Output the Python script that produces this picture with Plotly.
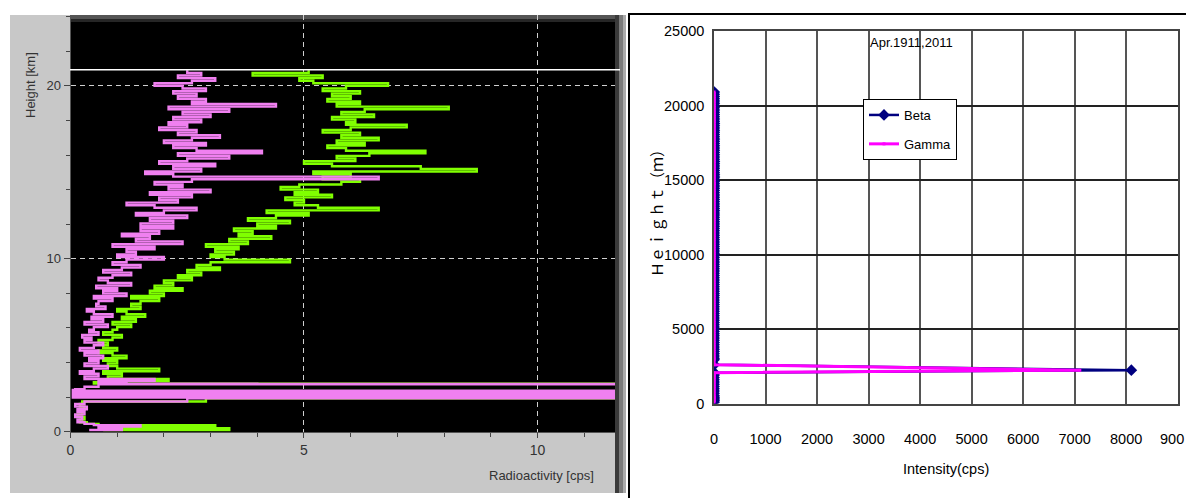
import plotly.graph_objects as go

W, H = 1186, 498

# ---------------- data: left panel (balloon sounding, cps vs km) ----------------
HEIGHT_KM = [
    0.10, 0.20, 0.30, 0.38, 0.45, 0.55, 0.70, 0.85, 1.00, 1.15, 1.30, 1.45, 1.60, 1.75, 1.93,
    1.97, 2.01, 2.05, 2.09, 2.13, 2.17, 2.21, 2.25, 2.29, 2.33, 2.37, 2.41, 2.46,
    2.60, 2.74, 2.76, 2.78, 2.86, 2.95,
    3.05, 3.20, 3.35, 3.50, 3.65, 3.80, 3.95, 4.10, 4.25, 4.40,
    4.55, 4.70, 4.85, 5.00, 5.15, 5.30, 5.45, 5.60, 5.75, 5.90,
    6.05, 6.20, 6.35, 6.50, 6.65, 6.80, 6.95, 7.10, 7.25, 7.40,
    7.55, 7.70, 7.85, 8.00, 8.15, 8.30, 8.45, 8.60, 8.75, 8.90,
    9.05, 9.20, 9.35, 9.50, 9.65, 9.80, 9.95, 10.10, 10.25, 10.40,
    10.55, 10.70, 10.85, 11.00, 11.15, 11.30, 11.45, 11.60, 11.75, 11.90,
    12.05, 12.20, 12.35, 12.50, 12.65, 12.80, 12.95, 13.10, 13.25, 13.40,
    13.55, 13.70, 13.85, 14.00, 14.15, 14.30, 14.45, 14.60, 14.75, 14.90,
    15.05, 15.20, 15.35, 15.50, 15.65, 15.80, 15.95, 16.10, 16.25, 16.40,
    16.55, 16.70, 16.85, 17.00, 17.15, 17.30, 17.45, 17.60, 17.75, 17.90,
    18.05, 18.20, 18.35, 18.50, 18.65, 18.80, 18.95, 19.10, 19.25, 19.40,
    19.55, 19.70, 19.85, 20.00, 20.15, 20.30, 20.45, 20.60, 20.75, 20.90,
]

GREEN_CPS = [
    0.7, 3.4, 0.9, 3.1, 0.6, 0.35, 0.2, 0.3, 0.15, 0.25, 0.2, 0.3, 0.2, 0.25, 2.9,
    80, 80, 80, 80, 80, 80, 80, 80, 80, 80, 80, 80, 80,
    80, 80, 80, 80, 0.5, 1.0,
    2.1, 0.8, 1.1, 0.7, 1.9, 1.0, 0.8, 1.0, 0.7, 1.2,
    0.9, 0.6, 1.0, 0.7, 0.8, 0.6, 0.9, 1.1, 0.7, 0.9,
    1.0, 1.3, 0.9, 1.4, 1.1, 1.6, 1.2, 1.0, 1.5, 1.3,
    1.5, 1.9, 1.3, 2.0, 1.7, 2.4, 1.8, 2.2, 2.0, 2.6,
    2.3, 2.8, 2.5, 3.2, 2.7, 3.0, 4.7, 3.3, 3.0, 3.5,
    3.1, 3.6, 2.9, 3.8, 3.4, 4.3, 3.6, 3.9, 3.5, 4.4,
    4.0, 4.7, 3.8, 4.4, 5.1, 4.2, 6.6, 5.3, 4.8, 5.0,
    4.6, 5.6, 4.8, 5.3, 4.5, 4.9, 5.8, 6.2, 5.4, 6.0,
    5.2, 8.7, 7.5, 5.6, 5.0, 6.1, 5.7, 6.4, 7.6, 5.9,
    5.5, 6.3, 5.7, 6.6, 5.8, 6.2, 5.4, 6.0, 7.2, 5.9,
    6.1, 5.6, 6.5, 5.8, 6.3, 8.1, 5.7, 6.2, 5.5, 6.0,
    5.6, 6.2, 5.4, 5.9, 6.8, 5.2, 4.9, 5.4, 3.9, 5.1,
]

MAGENTA_CPS = [
    0.4, 1.1, 0.6, 1.5, 0.5, 0.3, 0.15, 0.25, 0.1, 0.3, 0.15, 0.35, 0.1, 0.3, 2.5,
    80, 0.05, 80, 0.05, 80, 0.05, 80, 0.05, 80, 0.05, 80, 0.05, 0.1,
    0.3, 0.6, 80, 4.0, 1.2, 0.6,
    1.8, 0.3, 0.6, 0.2, 0.5, 0.8, 0.3, 0.6, 0.4, 0.7,
    0.3, 0.6, 0.2, 0.5, 0.7, 0.3, 0.45, 0.25, 0.6, 0.4,
    0.5, 0.8, 0.3, 0.7, 0.45, 0.9, 0.5, 0.35, 0.75, 0.55,
    0.6, 0.9, 0.5, 1.2, 0.7, 1.0, 0.55, 1.3, 0.8, 0.6,
    0.9, 1.3, 0.7, 1.1, 1.5, 0.9, 1.2, 2.0, 1.0, 1.4,
    1.2, 1.8, 0.9, 2.4, 1.4, 1.7, 1.1, 1.9, 1.5, 2.2,
    1.5, 2.2, 1.7, 2.5, 1.4, 2.0, 2.7, 1.8, 1.2, 2.3,
    1.9, 2.6, 1.7, 3.0, 2.1, 2.4, 1.8, 2.6, 6.6, 2.2,
    1.6, 2.8, 2.2, 3.1, 1.9, 2.5, 3.4, 2.3, 4.1, 2.7,
    2.2, 2.9, 2.0, 2.6, 3.2, 2.3, 2.7, 1.9, 2.5, 2.1,
    2.8, 2.2, 3.0, 2.4, 3.4, 2.1, 4.4, 2.6, 2.9, 2.3,
    2.7, 2.2, 2.9, 2.4, 1.8, 2.6, 3.1, 2.3, 2.8, 2.5,
]

CEILING_KM = 20.93
LEFT_XTICKS = [0, 5, 10]
LEFT_YTICKS = [0, 10, 20]

# ---------------- data: right panel (spike near 2.2 km) ----------------
SPIKE_HEIGHT_M = [2080, 2250, 2620]
BETA_SPIKE_CPS = [5, 8100, 5]
GAMMA_SPIKE_CPS = [5, 7100, 5]
RIGHT_XTICKS = [0, 1000, 2000, 3000, 4000, 5000, 6000, 7000, 8000]
RIGHT_YTICKS = [0, 5000, 10000, 15000, 20000, 25000]


def right_series(values, spike):
    hs, vs = [], []
    for h, v in zip(HEIGHT_KM, values):
        if h < 1.95:
            hs.append(h * 1000)
            vs.append(v)
    hs += SPIKE_HEIGHT_M
    vs += spike
    for h, v in zip(HEIGHT_KM, values):
        if h > 2.9:
            hs.append(h * 1000)
            vs.append(v)
    return hs, vs


beta_h, beta_v = right_series(GREEN_CPS, BETA_SPIKE_CPS)
gamma_h, gamma_v = right_series(MAGENTA_CPS, GAMMA_SPIKE_CPS)

GREEN = "#80ff00"
PINK = "#f080f0"
NAVY = "#000080"
MAG = "#ff00ff"
RFONT = "Liberation Sans, Arial, sans-serif"
LEFTFONT = "Liberation Sans, Arial, sans-serif"


def px(x):
    return x / W


def py(y):
    return 1 - y / H


fig = go.Figure()

fig.add_trace(go.Scatter(x=GREEN_CPS, y=HEIGHT_KM, mode="lines", xaxis="x", yaxis="y",
                         line=dict(color=GREEN, width=2.4, shape="hv"), showlegend=False))
fig.add_trace(go.Scatter(x=MAGENTA_CPS, y=HEIGHT_KM, mode="lines", xaxis="x", yaxis="y",
                         line=dict(color=PINK, width=2.4, shape="hv"), showlegend=False))

fig.add_trace(go.Scatter(x=beta_v, y=beta_h, mode="lines+markers", name="Beta", xaxis="x2", yaxis="y2",
                         line=dict(color=NAVY, width=2.5),
                         marker=dict(symbol="diamond", size=9, color=NAVY), legendgroup="b"))
fig.add_trace(go.Scatter(x=gamma_v, y=gamma_h, mode="lines+markers", name="Gamma", xaxis="x2", yaxis="y2",
                         line=dict(color=MAG, width=3),
                         marker=dict(symbol="square", size=3, color=MAG), legendgroup="g"))

shapes = [
    # left grey panel
    dict(type="rect", xref="paper", yref="paper", x0=px(10), x1=px(626), y0=py(493), y1=py(15),
         fillcolor="#c8c8c8", line=dict(width=0), layer="below"),
    # black plotting area
    dict(type="rect", xref="paper", yref="paper", x0=px(70), x1=px(615), y0=py(432), y1=py(15),
         fillcolor="#000000", line=dict(width=0), layer="below"),
    # soft shading
    dict(type="rect", xref="paper", yref="paper", x0=px(70), x1=px(615), y0=py(19), y1=py(15),
         fillcolor="#555555", line=dict(width=0), layer="below"),
    dict(type="rect", xref="paper", yref="paper", x0=px(70), x1=px(615), y0=py(22), y1=py(19),
         fillcolor="#262626", line=dict(width=0), layer="below"),
    dict(type="rect", xref="paper", yref="paper", x0=px(615), x1=px(619), y0=py(493), y1=py(15),
         fillcolor="#3a3a3a", line=dict(width=0), layer="below"),
    dict(type="rect", xref="paper", yref="paper", x0=px(619), x1=px(623), y0=py(493), y1=py(15),
         fillcolor="#7a7a7a", line=dict(width=0), layer="below"),
    dict(type="rect", xref="paper", yref="paper", x0=px(623), x1=px(626), y0=py(493), y1=py(15),
         fillcolor="#aaaaaa", line=dict(width=0), layer="below"),
    # ceiling line
    dict(type="line", xref="paper", yref="y", x0=px(70), x1=px(620), y0=CEILING_KM, y1=CEILING_KM,
         line=dict(color="#ffffff", width=1.5)),
    # right panel frame
    dict(type="rect", xref="paper", yref="paper", x0=px(629), x1=1.05, y0=-0.05, y1=py(14),
         line=dict(color="#000000", width=2), fillcolor="rgba(0,0,0,0)", layer="above"),
]

annotations = [
    dict(text="Height [km]", xref="paper", yref="paper", x=px(30), y=py(85), textangle=-90,
         showarrow=False, font=dict(family=LEFTFONT, size=13, color="#333333"),
         xanchor="center", yanchor="middle"),
    dict(text="Radioactivity [cps]", xref="paper", yref="paper", x=px(596), y=py(475),
         showarrow=False, font=dict(family=LEFTFONT, size=13, color="#333333"),
         xanchor="right", yanchor="middle"),
    dict(text="Apr.1911,2011", xref="paper", yref="paper", x=px(868), y=py(43),
         showarrow=False, font=dict(family=RFONT, size=13, color="#000000"),
         xanchor="left", yanchor="middle"),
    dict(text="Ｈｅｉｇｈｔ（ｍ）", xref="paper", yref="paper", x=px(656), y=py(210), textangle=-90,
         showarrow=False, font=dict(family="Noto Sans CJK JP", size=15, color="#000000"),
         xanchor="center", yanchor="middle"),
    dict(text="Intensity(cps)", xref="paper", yref="paper", x=px(946), y=py(469),
         showarrow=False, font=dict(family=RFONT, size=14.5, color="#000000"),
         xanchor="center", yanchor="middle"),
    # the 9000 tick label is cut by the picture's right edge
    dict(text="900", xref="paper", yref="paper", x=1.0, y=py(439),
         showarrow=False, font=dict(family=RFONT, size=14.5, color="#000000"),
         xanchor="right", yanchor="middle"),
]

fig.update_layout(
    width=W, height=H, autosize=False,
    margin=dict(l=0, r=0, t=0, b=0, pad=0),
    paper_bgcolor="#ffffff", plot_bgcolor="rgba(0,0,0,0)",
    shapes=shapes, annotations=annotations,
    xaxis=dict(domain=[px(70.5), px(615)], range=[0, 11.66], anchor="y", automargin=False,
               tickmode="array", tickvals=LEFT_XTICKS, ticks="outside", ticklen=5, tickcolor="#444444",
               minor=dict(tickmode="linear", tick0=0, dtick=1, ticks="outside", ticklen=4,
                          tickcolor="#444444", showgrid=False),
               showgrid=True, gridcolor="#d0d0d0", griddash="5px,4px", gridwidth=1,
               zeroline=False, showline=True, linecolor="#555555", linewidth=1,
               tickfont=dict(family=LEFTFONT, size=14, color="#333333")),
    yaxis=dict(domain=[py(431.7), py(15)], range=[0, 24.1], anchor="x", automargin=False,
               tickmode="array", tickvals=LEFT_YTICKS, ticks="outside", ticklen=6, tickcolor="#444444",
               minor=dict(tickmode="linear", tick0=0, dtick=2, ticks="outside", ticklen=4,
                          tickcolor="#444444", showgrid=False),
               showgrid=True, gridcolor="#d0d0d0", griddash="5px,4px", gridwidth=1,
               zeroline=False, showline=True, linecolor="#555555", linewidth=1,
               tickfont=dict(family=LEFTFONT, size=13, color="#333333")),
    xaxis2=dict(domain=[px(714), px(1177.7)], range=[0, 9000], anchor="y2", automargin=False,
                tickmode="array", tickvals=RIGHT_XTICKS, ticks="", ticklabelstandoff=21,
                tickformat="d",
                showgrid=True, gridcolor="#555555", gridwidth=1.5,
                zeroline=False, showline=True, mirror=True, linecolor="#444444", linewidth=1.5,
                tickfont=dict(family=RFONT, size=14.5, color="#000000")),
    yaxis2=dict(domain=[py(403.7), py(31)], range=[0, 25000], anchor="x2", automargin=False,
                tickmode="array", tickvals=RIGHT_YTICKS, ticks="", ticklabelstandoff=5,
                tickformat="d",
                showgrid=True, gridcolor="#222222", gridwidth=1.5,
                zeroline=False, showline=True, mirror=True, linecolor="#444444", linewidth=1.5,
                tickfont=dict(family=RFONT, size=14.5, color="#000000")),
    legend=dict(x=px(863), y=py(99), xanchor="left", yanchor="top",
                bgcolor="#ffffff", bordercolor="#000000", borderwidth=1,
                font=dict(family=RFONT, size=13, color="#000000"),
                itemwidth=30, tracegroupgap=9, traceorder="grouped"),
    showlegend=True,
)

fig.write_html("out.html")
